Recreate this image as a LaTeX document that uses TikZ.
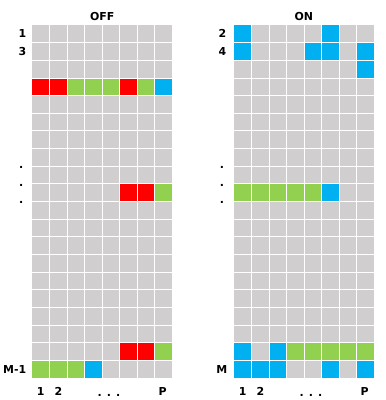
\documentclass[tikz,border=0pt]{standalone}
\usepackage{fontspec}
\setmainfont{DejaVu Sans}
\definecolor{cgray}{HTML}{D0CECE}
\definecolor{cred}{HTML}{FF0000}
\definecolor{cgreen}{HTML}{92D050}
\definecolor{cblue}{HTML}{00B0F0}
\tikzset{
  lab/.style={font=\bfseries\fontsize{11}{13}\selectfont, inner sep=0pt, text=black},
  gridline/.style={draw=white, line width=0.9bp},
}
\newcommand\cw{17.55}
\newcommand\ch{17.65}
\begin{document}
\begin{tikzpicture}[x=1bp,y=-1bp]
\useasboundingbox[fill=white] (0,0) rectangle (386,400);
% grids background
\foreach \gx in {32,234}{
  \fill[cgray] (\gx,25) rectangle +(8*\cw,20*\ch);
}
% OFF coloured cells
\foreach \r/\c/\col in {3/0/cred,3/1/cred,3/2/cgreen,3/3/cgreen,3/4/cgreen,3/5/cred,3/6/cgreen,3/7/cblue,
  9/5/cred,9/6/cred,9/7/cgreen,
  18/5/cred,18/6/cred,18/7/cgreen,
  19/0/cgreen,19/1/cgreen,19/2/cgreen,19/3/cblue}{
  \fill[\col] ({32+\c*\cw},{25+\r*\ch}) rectangle +(\cw,\ch);
}
% ON coloured cells
\foreach \r/\c/\col in {0/0/cblue,0/5/cblue,
  1/0/cblue,1/4/cblue,1/5/cblue,1/7/cblue,
  2/7/cblue,
  9/0/cgreen,9/1/cgreen,9/2/cgreen,9/3/cgreen,9/4/cgreen,9/5/cblue,
  18/0/cblue,18/2/cblue,18/3/cgreen,18/4/cgreen,18/5/cgreen,18/6/cgreen,18/7/cgreen,
  19/0/cblue,19/1/cblue,19/2/cblue,19/5/cblue,19/7/cblue}{
  \fill[\col] ({234+\c*\cw},{25+\r*\ch}) rectangle +(\cw,\ch);
}
% white grid lines
\foreach \gx in {32,234}{
  \foreach \i in {1,...,7}{
    \draw[gridline] ({\gx+\i*\cw},25) -- ({\gx+\i*\cw},{25+20*\ch});
  }
  \foreach \j in {1,...,19}{
    \draw[gridline] (\gx,{25+\j*\ch}) -- ({\gx+8*\cw},{25+\j*\ch});
  }
}
% titles
\node[lab] (off) at (102.3,16.7) {OFF};
\node[lab] (on) at (303.8,16.7) {ON};
% row labels left
\node[lab,anchor=east] (l1) at (26.5,{25+0.5*\ch}) {1};
\node[lab,anchor=east] (l3) at (26.5,{25+1.5*\ch}) {3};
\node[lab,anchor=east] (lm1) at (26.5,{25+19.5*\ch}) {M-1};
\node[lab,anchor=south] (ld1) at (21.3,168.3) {.};
\node[lab,anchor=south] (ld2) at (21.3,186.3) {.};
\node[lab,anchor=south] (ld3) at (21.3,203.7) {.};
% row labels right
\node[lab,anchor=east] (r2) at (226.5,{25+0.5*\ch}) {2};
\node[lab,anchor=east] (r4) at (226.5,{25+1.5*\ch}) {4};
\node[lab,anchor=east] (rm) at (227.5,{25+19.5*\ch}) {M};
\node[lab,anchor=south] (rd1) at (222,168.3) {.};
\node[lab,anchor=south] (rd2) at (222,186.3) {.};
\node[lab,anchor=south] (rd3) at (222,203.7) {.};
% column labels left
\node[lab] (lc1) at ({32+0.5*\cw},391) {1};
\node[lab] (lc2) at ({32+1.5*\cw},391) {2};
\node[lab,anchor=base] (lcd) at ({32+4.5*\cw-2},396.5) {. . .};
\node[lab] (lcp) at ({32+7.5*\cw-1},391) {P};
% column labels right
\node[lab] (rc1) at ({234+0.5*\cw},391) {1};
\node[lab] (rc2) at ({234+1.5*\cw},391) {2};
\node[lab,anchor=base] (rcd) at ({234+4.5*\cw-2},396.5) {. . .};
\node[lab] (rcp) at ({234+7.5*\cw-1},391) {P};
\end{tikzpicture}
\end{document}
